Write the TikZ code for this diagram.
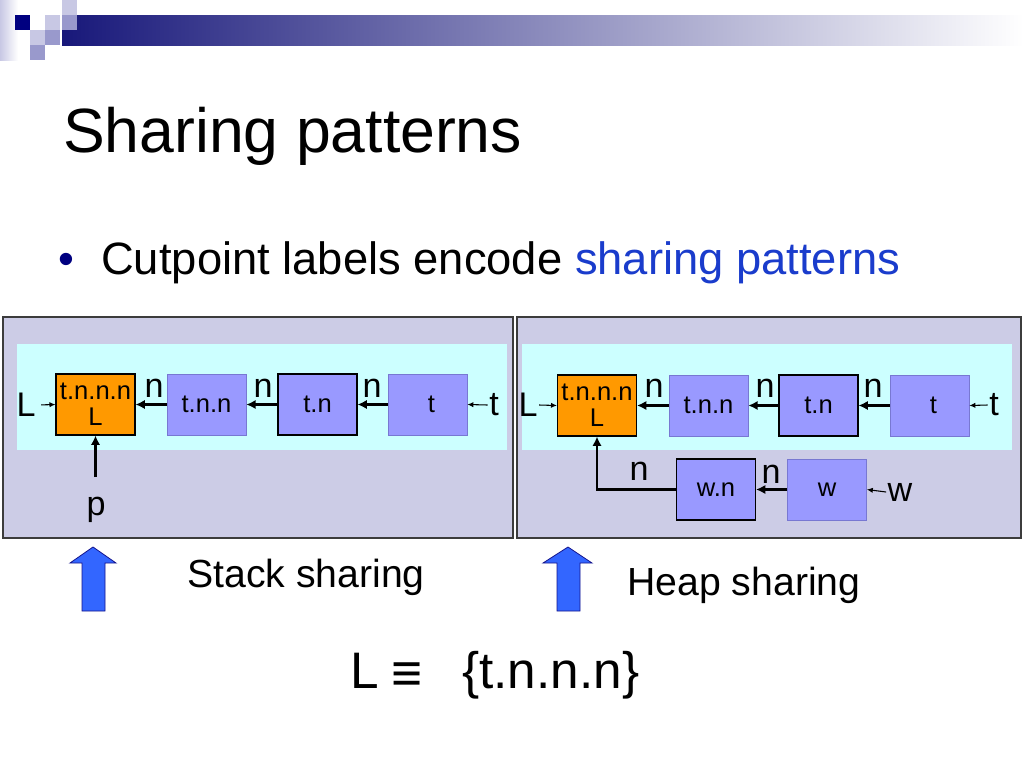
\documentclass[tikz,border=0pt]{standalone}
\usepackage{fontspec}
\setmainfont{Liberation Sans}
\usetikzlibrary{arrows.meta}
\definecolor{panelbg}{RGB}{204,204,230}
\definecolor{bandcyan}{RGB}{204,255,255}
\definecolor{boxblue}{RGB}{153,153,255}
\definecolor{boxedge}{RGB}{120,120,210}
\definecolor{boxorange}{RGB}{255,153,0}
\definecolor{bigarrow}{RGB}{51,102,255}
\definecolor{bigarrowedge}{RGB}{20,20,140}
\definecolor{textblue}{RGB}{26,60,204}
\definecolor{navy}{RGB}{0,0,128}
\definecolor{sqlight}{RGB}{200,200,228}
\definecolor{sqmid}{RGB}{153,153,204}
\definecolor{barleft}{RGB}{24,24,122}
\definecolor{panelline}{RGB}{60,60,60}
\begin{document}
\begin{tikzpicture}[x=0.75pt,y=-0.75pt,
  cell/.style={draw, minimum width=59.25pt, minimum height=45.75pt, inner sep=0pt,
    align=center, font=\fontsize{19.2}{19.5}\selectfont, line width=0.8pt},
  cellorange/.style={cell, fill=boxorange, draw=black},
  celldark/.style={cell, fill=boxblue, draw=black},
  celllight/.style={cell, fill=boxblue, draw=boxedge, line width=0.5pt},
  lab/.style={font=\fontsize{25.6}{28}\selectfont, inner sep=1pt},
  nlab/.style={font=\fontsize{25.6}{28}\selectfont, inner sep=0pt, anchor=base},
  link/.style={line width=2.2pt, -{Latex[length=7pt,width=7pt]}},
  ptr/.style={line width=0.8pt, -{Latex[length=4.5pt,width=4pt]}},
  panel/.style={fill=panelbg, draw=panelline, line width=0.8pt},
  band/.style={fill=bandcyan},
  bigup/.style={fill=bigarrow, draw=bigarrowedge, line width=0.6pt},
  caption/.style={font=\fontsize{29.4}{31}\selectfont, inner sep=0pt, anchor=base west},
  eqtext/.style={font=\fontsize{38.5}{40}\selectfont, inner sep=0pt, anchor=base west}
]
\useasboundingbox (0,0) rectangle (1024,768);
\fill[white] (0,0) rectangle (1024,768);

% header decoration
\shade[left color=sqlight, right color=white] (0,0) rectangle (18,60);
\shade[left color=barleft, right color=white] (62,15) rectangle (1024,45);
\fill[navy] (15,15) rectangle (30,30);
\fill[sqlight] (45,15) rectangle (60,30);
\fill[sqlight] (62,0) rectangle (77,15);
\fill[sqmid] (62,15) rectangle (77,30);
\fill[sqlight] (30,30) rectangle (45,45);
\fill[sqmid] (45,30) rectangle (60,45);
\fill[sqmid] (30,45) rectangle (45,60);

% title and bullet
\node[anchor=base west, inner sep=0pt, font=\fontsize{46.9}{50}\selectfont] (title) at (63,152) {Sharing patterns};
\node[anchor=base, inner sep=0pt, text=navy, font=\fontsize{34}{36}\selectfont] (bullet) at (66,274) {•};
\node[anchor=base west, inner sep=0pt, font=\fontsize{34}{36}\selectfont] (point) at (101,274) {Cutpoint labels encode \textcolor{textblue}{sharing patterns}};

% panels
\draw[panel] (3,317) rectangle (513,538);
\draw[panel] (517,317) rectangle (1021,538);
\fill[band] (17,344) rectangle (507,450);
\fill[band] (522,344) rectangle (1012,450);

% left panel: stack sharing
\node[cellorange] (A1) at (95.5,404.5) {t.n.n.n\\L};
\node[celllight] (B1) at (206.5,404.5) {t.n.n};
\node[celldark] (C1) at (317.5,404.5) {t.n};
\node[celllight] (D1) at (427.5,404.5) {\hspace*{6pt}t};
\node[lab] (L1) at (26,405) {L};
\node[lab] (T1) at (494,405) {t};
\node[nlab] (n11) at (154,397) {n};
\node[nlab] (n12) at (263,397) {n};
\node[nlab] (n13) at (372,397) {n};
\node[nlab] (P1) at (96,515) {p};
\coordinate (p0) at (95.5,477);
\draw[ptr, shorten <=3pt] (L1.east) -- (A1.west);
\draw[ptr] (T1.west) -- (D1.east);
\draw[link] (B1) -- (A1);
\draw[link] (C1) -- (B1);
\draw[link] (D1) -- (C1);
\draw[link] (p0) -- (A1.south);

% right panel: heap sharing
\node[cellorange] (A2) at (597,405.5) {t.n.n.n\\L};
\node[celllight] (B2) at (708.5,405.5) {t.n.n};
\node[celldark] (C2) at (818.5,405.5) {t.n};
\node[celllight] (D2) at (929.5,405.5) {\hspace*{6pt}t};
\node[celldark] (E2) at (716,489.5) {w.n};
\node[celllight] (F2) at (827,489.5) {w};
\node[lab] (L2) at (528,405) {L};
\node[lab] (T2) at (994,405) {t};
\node[lab] (W2) at (900,492) {w};
\node[nlab] (n21) at (654,397) {n};
\node[nlab] (n22) at (765,397) {n};
\node[nlab] (n23) at (873,397) {n};
\node[nlab] (n24) at (639,480) {n};
\node[nlab] (n25) at (771,483) {n};
\draw[ptr] (L2.east) -- (A2.west);
\draw[ptr] (T2.west) -- (D2.east);
\draw[ptr] (W2.west) -- (F2.east);
\draw[link] (B2) -- (A2);
\draw[link] (C2) -- (B2);
\draw[link] (D2) -- (C2);
\draw[link] (F2) -- (E2);
\draw[link] (E2.west) -| (A2.south);

% big blue arrows and captions
\draw[bigup] (93,547) -- (116,563) -- (105,563) -- (105,611) -- (82,611) -- (82,563) -- (70,563) -- cycle;
\draw[bigup] (568,547) -- (592,563) -- (580,563) -- (580,611) -- (557,611) -- (557,563) -- (543,563) -- cycle;
\node[caption] (stack) at (187,587) {Stack sharing};
\node[caption] (heap) at (627,595) {Heap sharing};

% equation
\node[eqtext] (eqL) at (350,688) {L};
\node[inner sep=0pt, font=\fontsize{40}{42}\selectfont] (eqsym) at (407,677) {≡};
\node[eqtext] (eqset) at (462,688) {\{t.n.n.n\}};
\end{tikzpicture}
\end{document}
